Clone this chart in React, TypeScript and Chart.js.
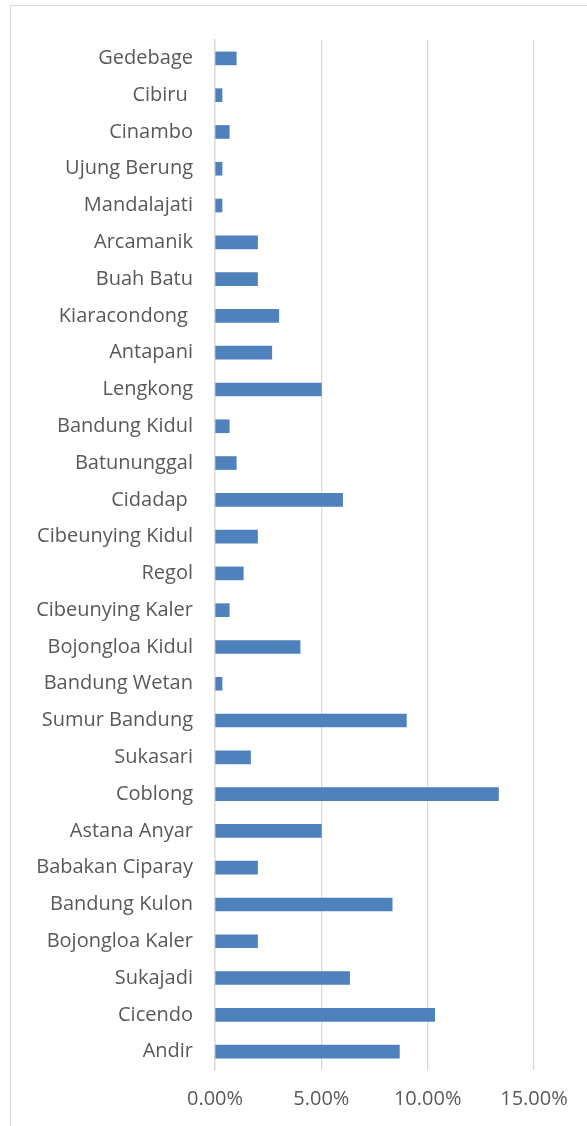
import React, { useEffect, useRef } from "react";
import { Chart, registerables } from "chart.js";

Chart.register(...registerables);

const categories: string[] = [
  "Gedebage", "Cibiru ", "Cinambo", "Ujung Berung", "Mandalajati", "Arcamanik",
  "Buah Batu", "Kiaracondong ", "Antapani", "Lengkong", "Bandung Kidul", "Batununggal",
  "Cidadap ", "Cibeunying Kidul", "Regol", "Cibeunying Kaler", "Bojongloa Kidul",
  "Bandung Wetan", "Sumur Bandung", "Sukasari", "Coblong", "Astana Anyar",
  "Babakan Ciparay", "Bandung Kulon", "Bojongloa Kaler", "Sukajadi", "Cicendo", "Andir",
];

const shares: number[] = [
  1.0, 0.33, 0.67, 0.33, 0.33, 2.0,
  2.0, 3.0, 2.67, 5.0, 0.67, 1.0,
  6.0, 2.0, 1.33, 0.67, 4.0,
  0.33, 9.0, 1.67, 13.33, 5.0,
  2.0, 8.33, 2.0, 6.33, 10.33, 8.67,
];

const xTicks: number[] = [0, 5, 10, 15];

export default function App() {
  const ref = useRef<HTMLCanvasElement>(null);
  useEffect(() => {
    if (!ref.current) return;
    const font = { family: "'Open Sans', sans-serif", size: 20 };
    const chart = new Chart(ref.current, {
      type: "bar",
      data: {
        labels: categories,
        datasets: [
          {
            data: shares,
            backgroundColor: "#4f81bd",
            borderColor: "#4f81bd",
            borderWidth: 0,
            barThickness: 13,
          },
        ],
      },
      options: {
        indexAxis: "y",
        animation: false,
        responsive: false,
        maintainAspectRatio: false,
        layout: { padding: { top: 40, right: 53, bottom: 0, left: 0 } },
        plugins: { legend: { display: false }, tooltip: { enabled: false } },
        scales: {
          x: {
            min: xTicks[0],
            max: xTicks[xTicks.length - 1],
            afterBuildTicks: (scale: any) => {
              scale.ticks = xTicks.map((v) => ({ value: v }));
            },
            afterFit: (scale: any) => {
              scale.height = 56;
            },
            ticks: {
              color: "#595959",
              font,
              padding: 17,
              callback: (v: any) => Number(v).toFixed(2) + "%",
            },
            grid: { color: "#d9d9d9", lineWidth: 1.3, drawTicks: false },
            border: { display: false },
          },
          y: {
            afterFit: (scale: any) => {
              scale.width = 215;
            },
            ticks: { color: "#595959", font, padding: 22, autoSkip: false },
            grid: { display: false, drawTicks: false },
            border: { display: true, color: "#d9d9d9", width: 1.3 },
          },
        },
      },
    });
    return () => chart.destroy();
  }, []);
  return (
    <div>
      <div
        style={{
          position: "fixed",
          left: 10,
          top: 5,
          width: 700,
          height: 1300,
          border: "1px solid #d9d9d9",
          background: "#fff",
        }}
      />
      <canvas
        ref={ref}
        width={587}
        height={1126}
        style={{ position: "fixed", left: 0, top: 0, width: 587, height: 1126 }}
      />
    </div>
  );
}
